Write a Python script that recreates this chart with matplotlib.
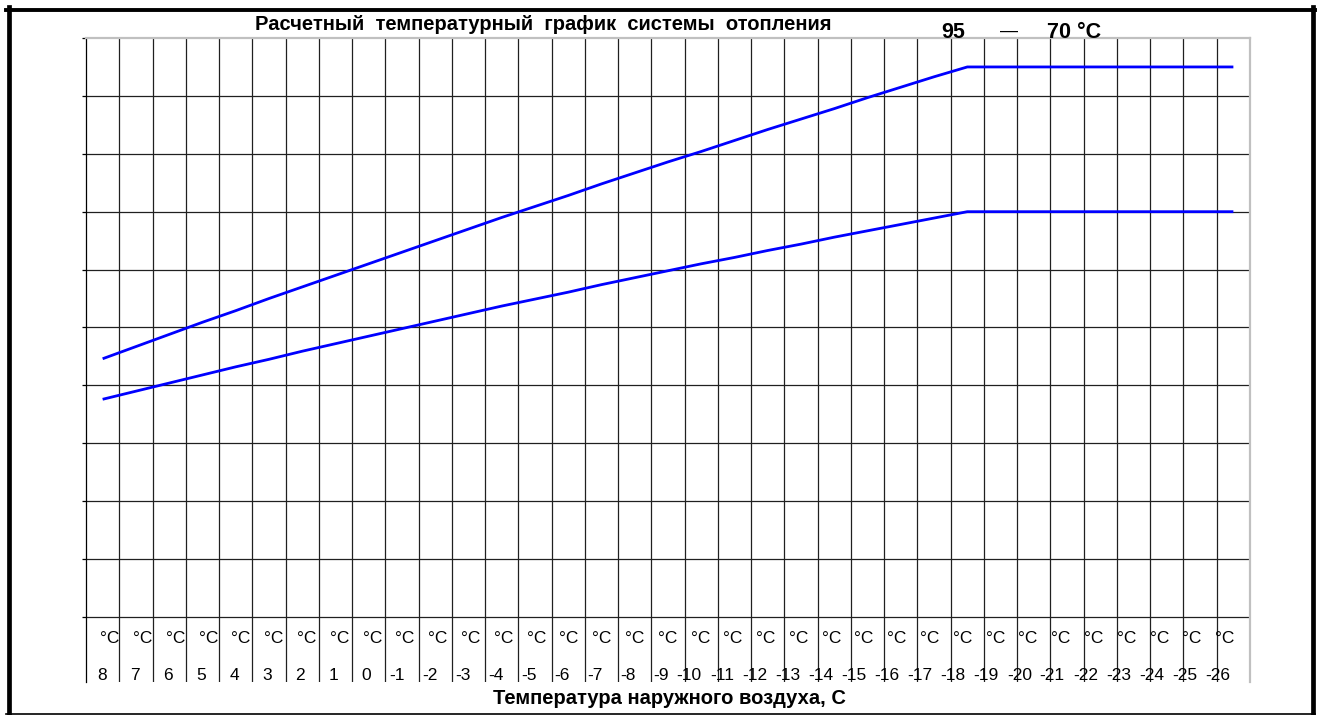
import matplotlib
matplotlib.use('Agg')
import matplotlib.pyplot as plt
from matplotlib.lines import Line2D
from matplotlib.transforms import blended_transform_factory
import numpy as np

plt.rcParams['font.family'] = ['Liberation Sans', 'DejaVu Sans']

### Данные

t_out = ['8', '7', '6', '5', '4', '3', '2', '1', '0', '-1', '-2', '-3', '-4', '-5',
         '-6', '-7', '-8', '-9', '-10', '-11', '-12', '-13', '-14', '-15', '-16',
         '-17', '-18', '-19', '-20', '-21', '-22', '-23', '-24', '-25', '-26']

# температура подачи, °C
t_supply = [44.6, 46.7, 48.8, 50.9, 52.9, 55.0, 57.0, 59.0, 61.0, 63.0, 65.0,
            67.0, 69.0, 70.9, 72.8, 74.8, 76.7, 78.6, 80.4, 82.3, 84.2, 86.0,
            87.8, 89.7, 91.5, 93.3, 95.0, 95.0, 95.0, 95.0, 95.0, 95.0, 95.0,
            95.0, 95.0]

# температура обратки, °C
t_return = [37.6, 39.0, 40.4, 41.8, 43.2, 44.5, 45.9, 47.2, 48.5, 49.8, 51.1,
            52.4, 53.7, 54.9, 56.1, 57.4, 58.6, 59.8, 61.0, 62.1, 63.3, 64.4,
            65.6, 66.7, 67.8, 68.9, 70.0, 70.0, 70.0, 70.0, 70.0, 70.0, 70.0,
            70.0, 70.0]

W, H = 1317, 715
fig = plt.figure(figsize=(W/100, H/100), dpi=100)

def fx(px):
    return px/W

def fy(py):
    return 1 - py/H

### Рамка

fig.add_artist(Line2D([fx(8.5), fx(8.5)], [fy(7), fy(714.5)], color='black', lw=3.4, transform=fig.transFigure))
fig.add_artist(Line2D([fx(6), fx(1315)], [fy(9.5), fy(9.5)], color='black', lw=2.8, transform=fig.transFigure))
fig.add_artist(Line2D([fx(1312.5), fx(1312.5)], [fy(7), fy(714.5)], color='black', lw=3.4, transform=fig.transFigure))
fig.add_artist(Line2D([fx(6), fx(1315)], [fy(713.8), fy(713.8)], color='black', lw=1.2, transform=fig.transFigure))

### График

ax = fig.add_axes([fx(86), fy(682), fx(1250) - fx(86), fy(38) - fy(682)])
n = len(t_out)
ax.set_xlim(0, n)
ax.set_ylim(-11.23, 100)

for k in range(1, n):
    ax.axvline(k, color='#202020', lw=0.9, zorder=1)
for v in range(0, 100, 10):
    ax.axhline(v, color='#202020', lw=0.9, zorder=1)

x = np.arange(n) + 0.5
ax.plot(x, t_supply, color='#0000ff', lw=2.0, zorder=3, solid_capstyle='butt')
ax.plot(x, t_return, color='#0000ff', lw=2.0, zorder=3, solid_capstyle='butt')

ax.set_yticks(np.arange(0, 101, 10))
ax.set_yticklabels([])
ax.set_xticks([])
ax.tick_params(axis='y', direction='out', length=3, width=0.9, color='black')
ax.spines['bottom'].set_visible(False)
ax.spines['left'].set_color('black')
ax.spines['left'].set_linewidth(0.9)
for s in ['top', 'right']:
    ax.spines[s].set_color('#c0c0c0')
    ax.spines[s].set_linewidth(1.6)

# подписи температур в ячейках
tr = blended_transform_factory(ax.transData, ax.transAxes)
col = 1164/35
for i, lab in enumerate(t_out):
    xc = (110 - 86 + 32.79*i)/col
    ax.text(xc, (682 - 643)/644, '°C', transform=tr, ha='center', va='baseline', fontsize=12.5)
    xr = (107 - 86 + 33.03*i)/col
    ax.text(xr, (682 - 680)/644, lab, transform=tr, ha='right', va='baseline', fontsize=12.5)

### Заголовки

fig.text(fx(543), fy(30), 'Расчетный  температурный  график  системы  отопления',
         ha='center', va='baseline', fontsize=14.5, fontweight='bold')
fig.text(fx(953.5), fy(38), '95', ha='center', va='baseline', fontsize=15.5, fontweight='bold')
fig.text(fx(1009), fy(36), '—', ha='center', va='baseline', fontsize=13)
fig.text(fx(1074.5), fy(38), '70 °C', ha='center', va='baseline', fontsize=15.5, fontweight='bold')
fig.text(fx(669), fy(704), 'Температура наружного воздуха, С',
         ha='center', va='baseline', fontsize=14.5, fontweight='bold')

plt.savefig('out.png', dpi=100)
